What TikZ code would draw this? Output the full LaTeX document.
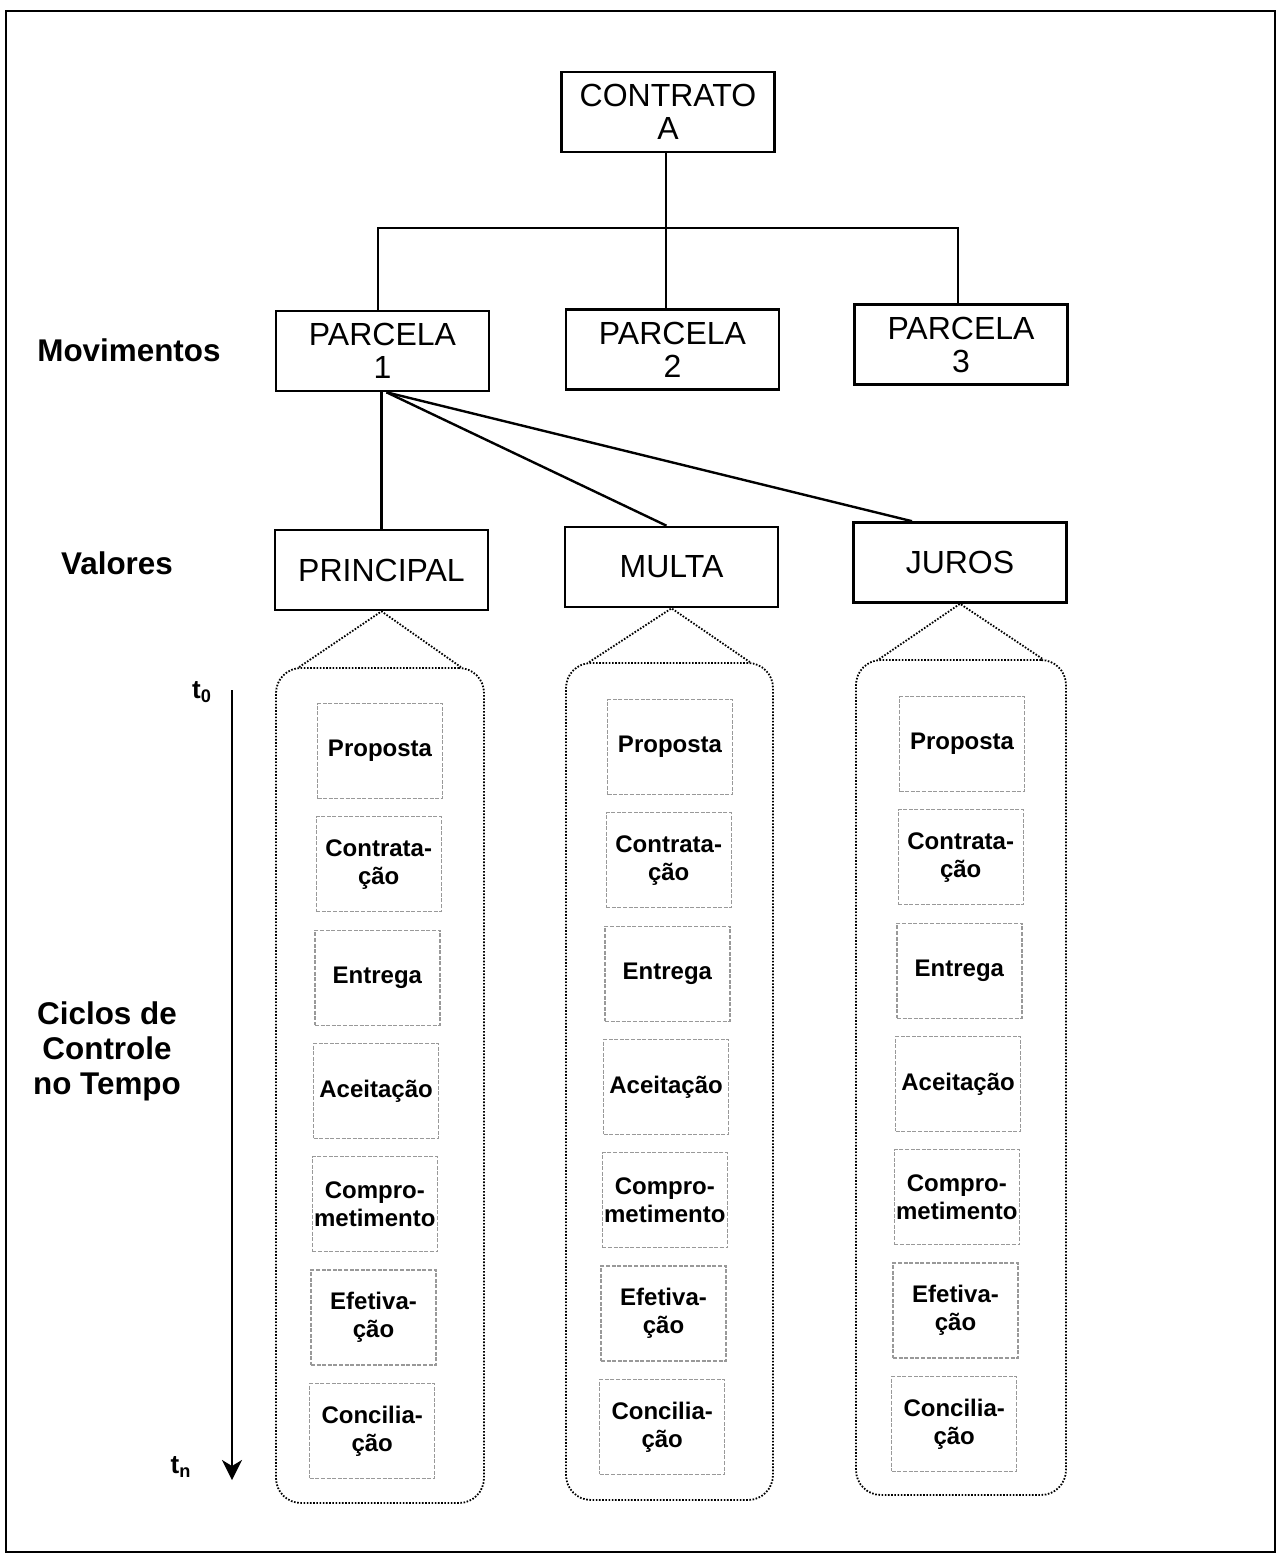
\documentclass[tikz,border=0pt]{standalone}
\usepackage{fontspec}
\setmainfont{Liberation Sans}
\usetikzlibrary{calc,arrows.meta}
\begin{document}
\begin{tikzpicture}[x=0.5pt,y=-0.5pt,
  mainbox/.style={draw, line width=1.3pt, minimum width=106.5pt, minimum height=40pt,
    inner sep=0pt, align=center, font=\fontsize{16}{16.5}\selectfont},
  stagebox/.style={draw=black!40, dash pattern=on 2pt off 0.8pt, line width=0.6pt,
    minimum width=62.5pt, minimum height=47.5pt, inner sep=0pt, align=center,
    font=\bfseries\fontsize{12}{14}\selectfont},
  column/.style={draw, line width=0.9pt, dash pattern=on 0.8pt off 0.8pt,
    rounded corners=12.5pt, inner sep=0pt},
  fan/.style={line width=0.9pt, dash pattern=on 0.8pt off 0.8pt},
  side/.style={font=\bfseries\fontsize{15.7}{17.5}\selectfont, align=center},
  link/.style={line width=1.2pt}]

\useasboundingbox (0,0) rectangle (1277,1554);
\draw[line width=1pt] (6,11) rectangle (1275,1552);

% contract tree
\node[mainbox] (contrato) at (668,112) {CONTRATO\\A};
\node[mainbox] (p1) at (382.5,351) {PARCELA\\1};
\node[mainbox] (p2) at (672.5,349.5) {PARCELA\\2};
\node[mainbox] (p3) at (961,344.5) {PARCELA\\3};
\coordinate (bus) at (666,228);
\coordinate (busL) at (378,228);
\coordinate (busR) at (958,228);
\draw[link] (bus |- contrato.south) -- (bus);
\draw[link] (busL |- p1.north) -- (busL) -- (busR) -- (busR |- p3.north);
\draw[link] (bus) -- (bus |- p2.north);

% value components of the first instalment
\node[mainbox] (principal) at (381.5,570) {PRINCIPAL};
\node[mainbox] (multa) at (671.5,567) {MULTA};
\node[mainbox] (juros) at (960,562.5) {JUROS};
\coordinate (fanroot) at ($(p1.south)+(4,0)$);
\coordinate (jtop) at ($(juros.north)+(-48,0)$);
\coordinate (mtop) at ($(multa.north)+(-5,0)$);
\draw[link] (principal.north |- p1.south) -- (principal.north);
\draw[link] (fanroot) -- (mtop);
\draw[link] (fanroot) -- (jtop);

% side labels
\node[side] (mov) at (129,350) {Movimentos};
\node[side] (val) at (117,563) {Valores};
\node[side] (ciclos) at (107,1051) {Ciclos de\\Controle\\no Tempo};

% time axis
\coordinate (tstart) at (232,690);
\coordinate (tend) at (232,1480);
\draw[line width=1.3pt, -{Stealth[length=10pt,width=10pt,inset=3pt]}] (tstart) -- (tend);
\node[font=\bfseries\fontsize{13}{14}\selectfont] (t0) at (202,692) {t\textsubscript{0}};
\node[font=\bfseries\fontsize{13}{14}\selectfont] (tn) at (181,1467) {t\textsubscript{n}};

% control-cycle columns
\node[column, minimum width=104pt, minimum height=417.5pt] (colA) at (380,1085.5) {};
\node[column, minimum width=103.5pt, minimum height=418.5pt] (colB) at (669.5,1081.5) {};
\node[column, minimum width=105pt, minimum height=417.5pt] (colC) at (961,1077.5) {};
\draw[fan] ($(colA.north west)+(24,0)$) -- (principal.south) -- ($(colA.north east)+(-24,0)$);
\draw[fan] ($(colB.north west)+(24,0)$) -- (multa.south) -- ($(colB.north east)+(-24,0)$);
\draw[fan] ($(colC.north west)+(24,0)$) -- (juros.south) -- ($(colC.north east)+(-24,0)$);

\foreach \col/\x/\y in {A/380/751, B/670/747, C/962/744} {
  \foreach [count=\i from 0] \t in {Proposta, Contrata-\\ção, Entrega, Aceitação,
      Compro-\\metimento, Efetiva-\\ção, Concilia-\\ção} {
    \node[stagebox] (\col\i) at ({\x-1.3*\i},{\y+113.3*\i}) {\t};
  }
}
\end{tikzpicture}
\end{document}
